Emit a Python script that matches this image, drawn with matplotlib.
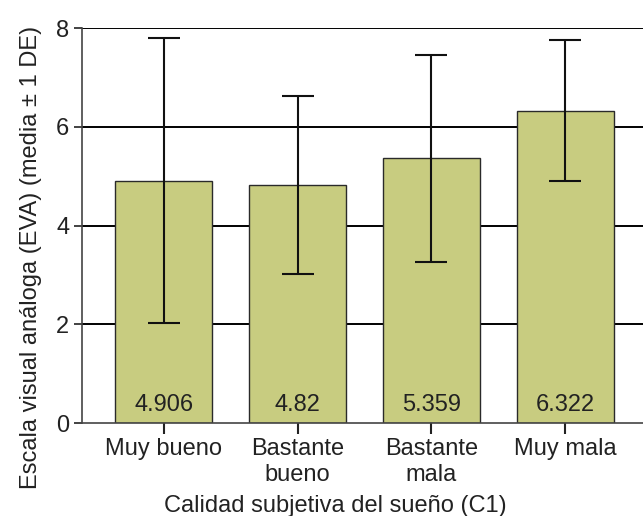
import matplotlib
matplotlib.use("Agg")
import matplotlib.pyplot as plt

categories = ["Muy bueno", "Bastante\nbueno", "Bastante\nmala", "Muy mala"]
means = [4.906, 4.82, 5.359, 6.322]
sds = [2.89, 1.80, 2.09, 1.43]
value_labels = ["4.906", "4.82", "5.359", "6.322"]

plt.rcParams['font.family'] = ['Liberation Sans', 'DejaVu Sans']
text_color = '#222222'

fig = plt.figure(figsize=(6.43, 5.16), dpi=100)
ax = fig.add_axes([0.1275, 0.1802, 0.8725, 0.7655])

x = list(range(len(categories)))

# gridlines drawn under the bars
for yv in [2, 4, 6, 8]:
    ax.axhline(yv, color='black', lw=1.4, zorder=0)

ax.bar(x, means, width=0.72, color='#c8cc80', edgecolor='#2a2a2a', linewidth=1.0, zorder=2)
ax.errorbar(x, means, yerr=sds, fmt='none', ecolor='#111111', elinewidth=1.5,
            capsize=11.5, capthick=1.5, zorder=3)

for xi, lab in zip(x, value_labels):
    ax.text(xi, 0.36, lab, ha='center', va='center', fontsize=17, color=text_color, zorder=4)

ax.set_xlim(-0.61, 3.58)
ax.set_ylim(0, 8)
ax.set_yticks([0, 2, 4, 6, 8])
ax.set_xticks(x)
ax.set_xticklabels(categories, fontsize=17, color=text_color, linespacing=1.2)
ax.tick_params(axis='y', labelsize=17, labelcolor=text_color, length=6, width=1.2, pad=3, colors=text_color)
ax.tick_params(axis='x', length=8, width=1.5, pad=3, colors=text_color)

for s in ['top', 'right']:
    ax.spines[s].set_visible(False)
ax.spines['left'].set_color('#444444')
ax.spines['bottom'].set_color('#444444')
ax.spines['left'].set_linewidth(1.2)
ax.spines['bottom'].set_linewidth(1.2)

ax.set_ylabel("Escala visual análoga (EVA) (media ± 1 DE)", fontsize=17, color=text_color)
ax.yaxis.set_label_coords(-0.071, 0.42)
ax.set_xlabel("Calidad subjetiva del sueño (C1)", fontsize=17, color=text_color)
ax.xaxis.set_label_coords(0.451, -0.182)

fig.savefig("out.png", dpi=100)
